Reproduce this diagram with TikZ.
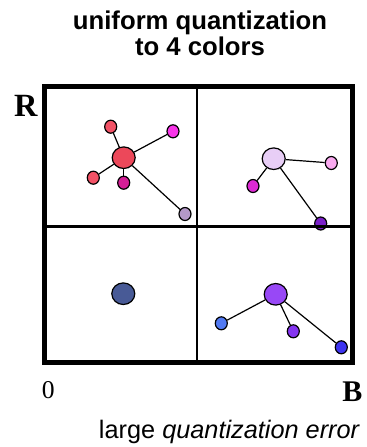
\documentclass[tikz,border=0pt]{standalone}
\usepackage{fontspec}
\setmainfont{Liberation Serif}
\setsansfont{Liberation Sans}
\definecolor{redmean}{RGB}{236,72,90}
\definecolor{redpix}{RGB}{242,82,102}
\definecolor{magentapix}{RGB}{248,52,232}
\definecolor{darkmagenta}{RGB}{212,30,150}
\definecolor{greylilac}{RGB}{180,152,200}
\definecolor{lilacmean}{RGB}{232,206,246}
\definecolor{pinkpix}{RGB}{250,170,240}
\definecolor{orchidpix}{RGB}{222,42,212}
\definecolor{violetpix}{RGB}{122,32,200}
\definecolor{navymean}{RGB}{72,90,150}
\definecolor{purplemean}{RGB}{152,72,246}
\definecolor{bluepix}{RGB}{82,122,242}
\definecolor{indigopix}{RGB}{132,52,240}
\definecolor{royalpix}{RGB}{62,52,240}
\usepackage{tikz}
\usetikzlibrary{shapes.geometric}

\begin{document}
\begin{tikzpicture}[x=0.5pt, y=-0.5pt,
    sample/.style={draw, ellipse, line width=0.6pt, inner sep=0pt, minimum width=6pt, minimum height=6.5pt},
    centroid/.style={sample, minimum width=11.5pt, minimum height=10.8pt},
    link/.style={line width=0.6pt}]
        \useasboundingbox (0,0) rectangle (367,447);

        \node (title) [anchor=base, align=center, font=\sffamily\bfseries\fontsize{12.85}{11.7}\selectfont] at (200,55) {uniform quantization\\to 4 colors};

        % top left cell
        \node (rmean) [centroid, fill=redmean] at (123.7,157.7) {};
        \node (r1) [sample, fill=redpix] at (110.7,126.7) {};
        \node (r2) [sample, fill=magentapix] at (173,131.3) {};
        \node (r3) [sample, fill=redpix] at (93.3,177.7) {};
        \node (r4) [sample, fill=darkmagenta] at (123.7,182.7) {};
        \node (r5) [sample, fill=greylilac] at (185,214) {};
        \foreach \s in {r1,r2,r3,r4,r5}
          \draw[link] (rmean) -- (\s);

        % top right cell
        \node (lmean) [centroid, fill=lilacmean] at (273.7,158.7) {};
        \node (l1) [sample, fill=pinkpix] at (331.3,163) {};
        \node (l2) [sample, fill=orchidpix] at (253,186) {};
        \node (l3) [sample, fill=violetpix] at (320.7,223.5) {};
        \foreach \s in {l1,l2,l3}
          \draw[link] (lmean) -- (\s);

        % bottom left cell
        \node (nmean) [centroid, fill=navymean] at (123.3,293.7) {};

        % bottom right cell
        \node (pmean) [centroid, fill=purplemean] at (275.7,294.3) {};
        \node (p1) [sample, fill=bluepix] at (221.3,323.3) {};
        \node (p2) [sample, fill=indigopix] at (293.3,331.3) {};
        \node (p3) [sample, fill=royalpix] at (341.3,347.3) {};
        \foreach \s in {p1,p2,p3}
          \draw[link] (pmean) -- (\s);

        % cells
        \draw[line width=1.2pt] (197.3,86.5) -- (197.3,362.5);
        \draw[line width=1.2pt] (44.2,226.5) -- (352.5,226.5);
        \draw[line width=2.5pt] (44.2,86.5) rectangle (352.5,362.5);

        \node (raxis) [anchor=base, font=\bfseries\fontsize{16.2}{18}\selectfont, inner sep=0pt] at (25.8,116.7) {R};
        \node (origin) [anchor=base, font=\fontsize{12.8}{14}\selectfont, inner sep=0pt] at (48.3,398.3) {0};
        \node (baxis) [anchor=base, font=\bfseries\fontsize{15}{17}\selectfont, inner sep=0pt] at (352.3,401.7) {B};

        \node (caption) [anchor=base, font=\sffamily\fontsize{12.65}{14}\selectfont] at (229.5,438.3) {large \textit{quantization error}};
      \end{tikzpicture}
\end{document}
